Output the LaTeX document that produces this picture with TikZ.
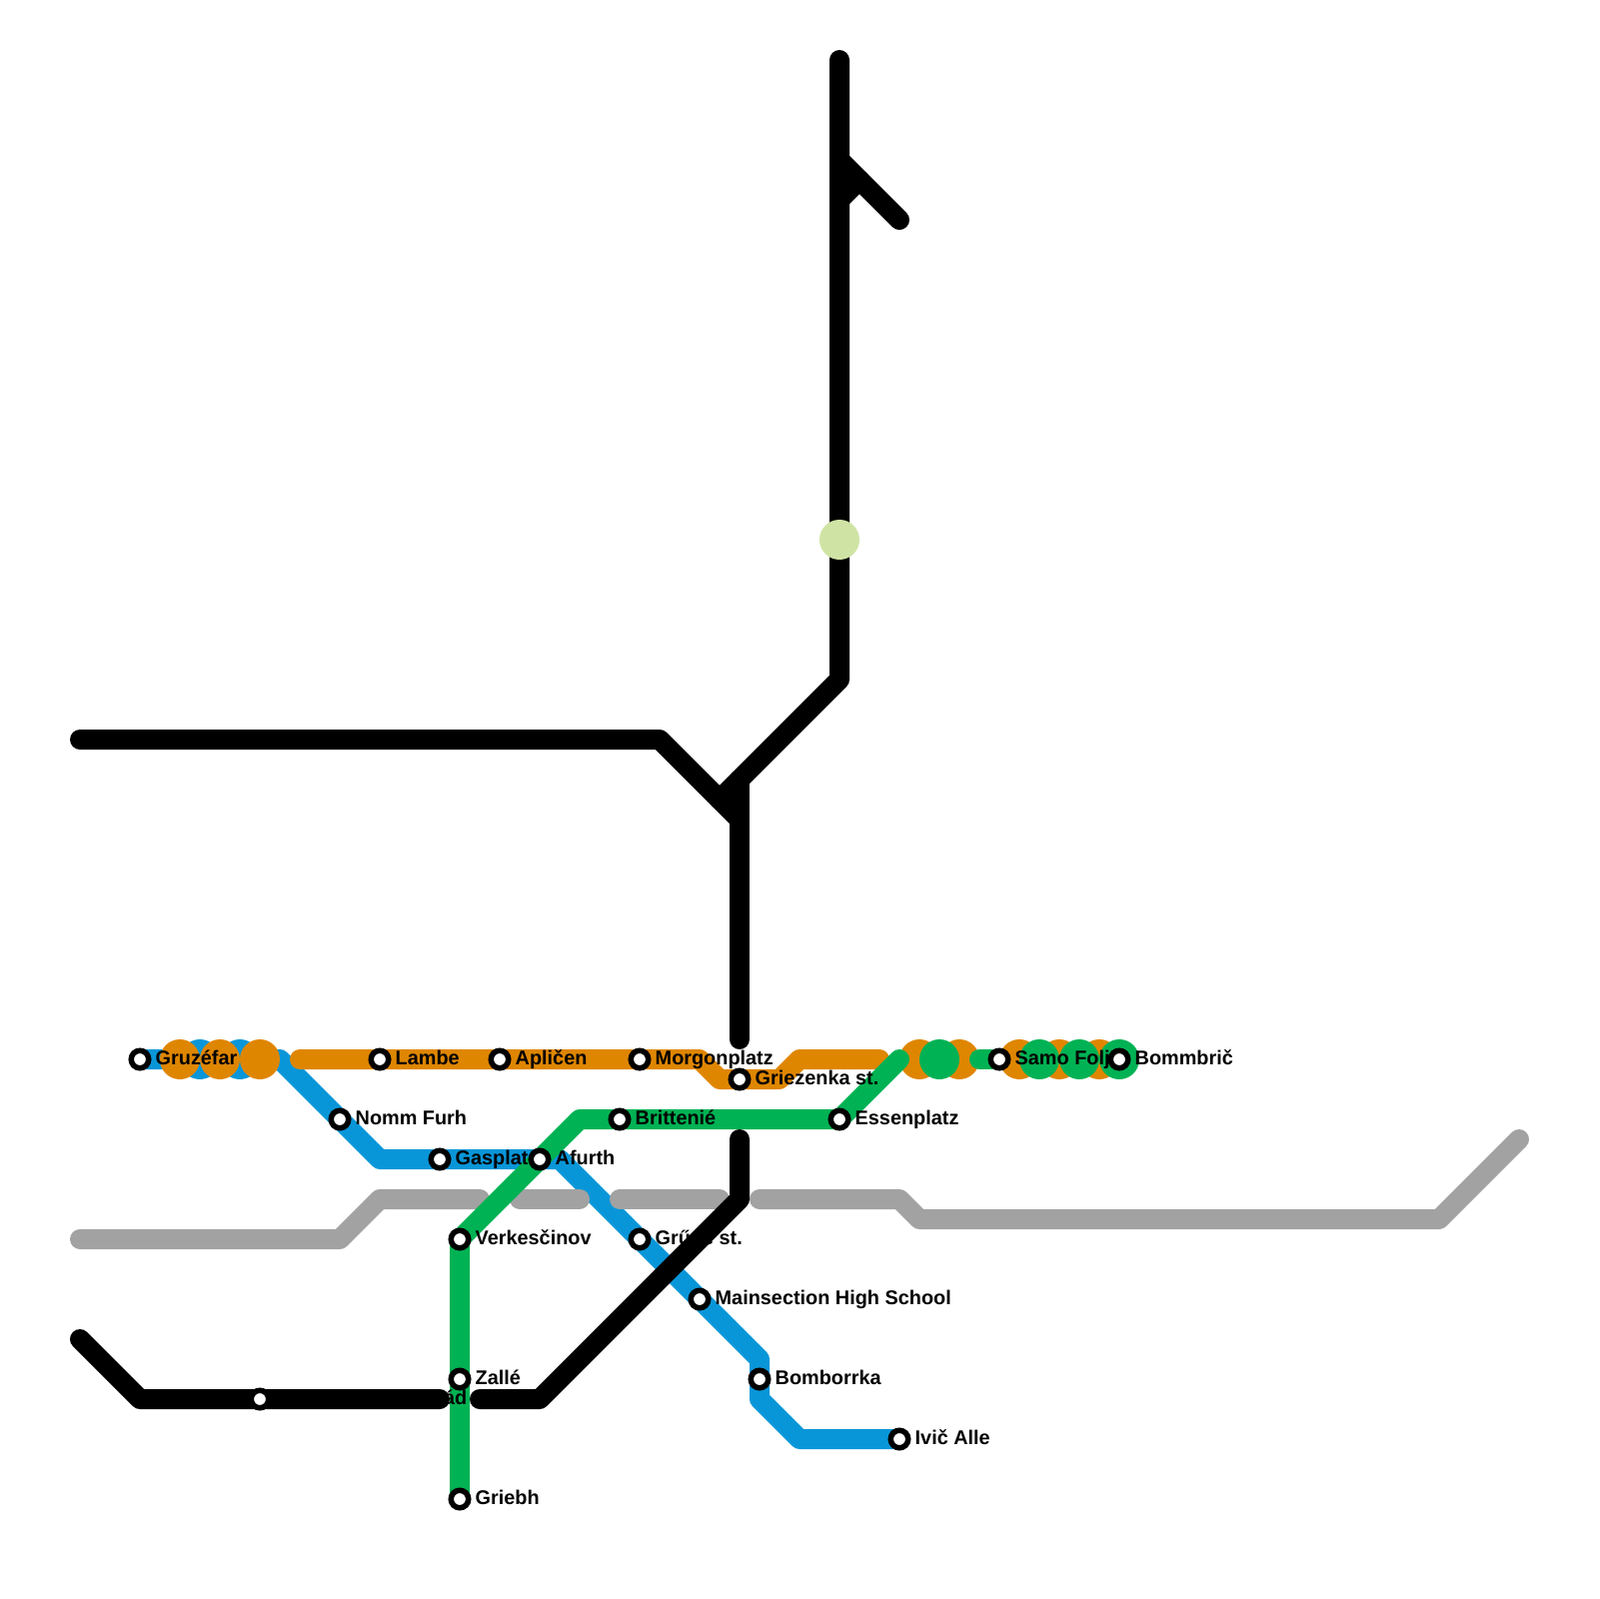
\documentclass[tikz,border=0pt]{standalone}
\usepackage{fontspec}
\setmainfont{Liberation Sans}
\usetikzlibrary{backgrounds}
\pgfdeclarelayer{foreground}
\pgfsetlayers{background,main,foreground}
\definecolor{line_black}{RGB}{0,0,0}
\definecolor{line_blue}{RGB}{9,150,216}
\definecolor{line_orange}{RGB}{223,134,0}
\definecolor{line_green}{RGB}{0,178,84}
\definecolor{line_gray}{RGB}{162,162,162}
\definecolor{node_pale}{RGB}{207,228,164}

\begin{document}
\begin{tikzpicture}[x=0.1mm,y=-0.1mm]
    \tikzstyle{line}=[line width=2mm,line cap=round,line join=round]
    \tikzstyle{stn}=[draw=black, circle, line width=0.55mm, minimum size=1.75mm, inner sep=0pt, fill=white]
    \tikzstyle{dot}=[circle, minimum size=4mm, inner sep=0pt]
    \tikzstyle{label}=[text=black, anchor=base west, inner sep=0pt, font=\bfseries\fontsize{5.65pt}{6pt}\selectfont]
    \useasboundingbox (0,0) rectangle (1600,1600);

    % bends and free ends
    \coordinate (k1) at (840,60);
    \coordinate (k2) at (840,680);
    \coordinate (k3) at (720,800);
    \coordinate (k4) at (740,1040);
    \coordinate (k5) at (80,740);
    \coordinate (k6) at (660,740);
    \coordinate (k7) at (740,820);
    \coordinate (k8) at (840,160);
    \coordinate (k9) at (900,220);
    \coordinate (k10) at (860,180);
    \coordinate (k11) at (840,200);
    \coordinate (k12) at (80,1340);
    \coordinate (k13) at (140,1400);
    \coordinate (k14) at (440,1400);
    \coordinate (k15) at (480,1400);
    \coordinate (k16) at (540,1400);
    \coordinate (k17) at (740,1200);
    \coordinate (k18) at (740,1140);
    \coordinate (k19) at (740,780);
    \coordinate (b1) at (280,1060);
    \coordinate (b2) at (380,1160);
    \coordinate (b3) at (560,1160);
    \coordinate (b4) at (760,1360);
    \coordinate (b5) at (760,1400);
    \coordinate (b6) at (800,1440);
    \coordinate (o1) at (300,1060);
    \coordinate (o2) at (700,1060);
    \coordinate (o3) at (720,1080);
    \coordinate (o4) at (780,1080);
    \coordinate (o5) at (800,1060);
    \coordinate (o6) at (880,1060);
    \coordinate (g1) at (580,1120);
    \coordinate (g2) at (900,1060);
    \coordinate (g3) at (980,1060);
    \coordinate (s1) at (80,1240);
    \coordinate (s2) at (340,1240);
    \coordinate (s3) at (380,1200);
    \coordinate (s4) at (480,1200);
    \coordinate (s5) at (520,1200);
    \coordinate (s6) at (580,1200);
    \coordinate (s7) at (620,1200);
    \coordinate (s8) at (720,1200);
    \coordinate (s9) at (760,1200);
    \coordinate (s10) at (900,1200);
    \coordinate (s11) at (920,1220);
    \coordinate (s12) at (1440,1220);
    \coordinate (s13) at (1520,1140);

    % stations
    \node[stn] (gruz) at (140,1060) {};
    \node[stn] (lamb) at (380,1060) {};
    \node[stn] (apli) at (500,1060) {};
    \node[stn] (morg) at (640,1060) {};
    \node[stn] (grie) at (740,1080) {};
    \node[stn] (nomm) at (340,1120) {};
    \node[stn] (gasp) at (440,1160) {};
    \node[stn] (bomb) at (760,1380) {};
    \node[stn] (grud) at (640,1240) {};
    \node[stn] (main) at (700,1300) {};
    \node[stn] (ivic) at (900,1440) {};
    \node[stn] (brit) at (620,1120) {};
    \node[stn] (esse) at (840,1120) {};
    \node[stn] (afur) at (540,1160) {};
    \node[stn] (verk) at (460,1240) {};
    \node[stn] (zall) at (460,1380) {};
    \node[stn] (grib) at (460,1500) {};
    \node[stn] (samo) at (1000,1060) {};
    \node[stn] (bmbr) at (1120,1060) {};

    \node[label] (l1) at (155,1065) {Gruzéfar};
    \node[label] (l2) at (395,1065) {Lambe};
    \node[label] (l3) at (515,1065) {Apličen};
    \node[label] (l4) at (655,1065) {Morgonplatz};
    \node[label] (l5) at (755,1085) {Griezenka st.};
    \node[label] (l6) at (355,1125) {Nomm Furh};
    \node[label] (l7) at (455,1165) {Gasplat};
    \node[label] (l8) at (555,1165) {Afurth};
    \node[label] (l9) at (635,1125) {Brittenié};
    \node[label] (l10) at (855,1125) {Essenplatz};
    \node[label] (l11) at (475,1245) {Verkesčinov};
    \node[label] (l12) at (655,1245) {Grűde st.};
    \node[label] (l13) at (715,1305) {Mainsection High School};
    \node[label] (l14) at (775,1385) {Bomborrka};
    \node[label] (l15) at (915,1445) {Ivič Alle};
    \node[label] (l16) at (475,1385) {Zallé};
    \node[label] (l17) at (475,1505) {Griebh};
    \node[label] (l18) at (1015,1065) {Samo Folj};
    \node[label] (l19) at (1135,1065) {Bommbrič};
    \node[label,anchor=base east] (l20) at (468,1405) {ád};

    \begin{pgfonlayer}{background}
    \draw[line,line_blue] (gruz.center) -- (b1) -- (nomm.center) -- (b2) -- (gasp.center) -- (b3) -- (grud.center) -- (main.center) -- (b4) -- (bomb.center) -- (b5) -- (b6) -- (ivic.center);
    \foreach \x in {200,240} \node[dot,fill=line_blue] (d\x) at (\x,1060) {};
    \foreach \x in {180,220,260,920,960,1020,1060,1100} \node[dot,fill=line_orange] (d\x) at (\x,1060) {};
    \draw[line,line_orange] (o1) -- (lamb.center) -- (apli.center) -- (morg.center) -- (o2) -- (o3) -- (grie.center) -- (o4) -- (o5) -- (o6);
    \draw[line,line_gray] (s1) -- (s2) -- (s3) -- (s4);
    \draw[line,line_gray] (s5) -- (s6);
    \draw[line,line_gray] (s7) -- (s8);
    \draw[line,line_gray] (s9) -- (s10) -- (s11) -- (s12) -- (s13);
    \draw[line,line_green] (grib.center) -- (zall.center) -- (verk.center) -- (afur.center) -- (g1) -- (brit.center) -- (esse.center) -- (g2);
    \draw[line,line_green] (g3) -- (samo.center);
    \foreach \x in {940,1040,1080,1120} \node[dot,fill=line_green] (d\x) at (\x,1060) {};
    \end{pgfonlayer}

    \begin{pgfonlayer}{foreground}
    \draw[line,line_black] (k1) -- (k2) -- (k3);
    \draw[line,line_black] (k5) -- (k6) -- (k7);
    \draw[line,line_black] (k19) -- (k4);
    \draw[line,line_black] (k8) -- (k9);
    \draw[line,line_black] (k10) -- (k11);
    \draw[line,line_black] (k12) -- (k13) -- (k14);
    \draw[line,line_black] (k15) -- (k16) -- (k17) -- (k18);
    \node[stn] (kneo) at (260,1400) {};
    \node[dot,fill=node_pale] (pale) at (840,540) {};
    \end{pgfonlayer}
\end{tikzpicture}
\end{document}
